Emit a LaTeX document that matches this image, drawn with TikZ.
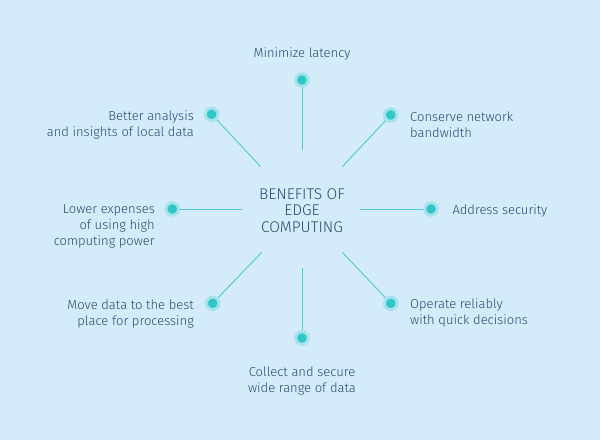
\documentclass[tikz,border=0pt]{standalone}
\usepackage{fontspec}
\setmainfont{Fira Sans Light}
\definecolor{bg}{HTML}{D4ECFA}
\definecolor{txt}{HTML}{2A486C}
\definecolor{teal}{HTML}{2FC6C8}
\definecolor{halo}{HTML}{A6E2EC}
\definecolor{spoke}{HTML}{4CC8D0}
\begin{document}
\begin{tikzpicture}[x=1pt,y=-1pt,
  lbl/.style={font=\fontsize{13}{16}\selectfont, text=txt, inner sep=0pt},
  ctr/.style={font=\fontsize{15.5}{16.3}\selectfont, text=txt, inner sep=0pt},
  dot/.style={circle, fill=teal, minimum size=12.5pt, inner sep=0pt, draw=halo, line width=3pt},
  spk/.style={draw=spoke, line width=0.9pt}]
\fill[bg] (0,0) rectangle (600,440);
\useasboundingbox (0,0) rectangle (600,440);
% centre
\node[ctr, align=center] (c) at (302,210.5) {BENEFITS OF\\EDGE\\COMPUTING};
% spoke inner ends
\coordinate (e1) at (302,150);
\coordinate (e2) at (342.3,166.7);
\coordinate (e3) at (360,209);
\coordinate (e4) at (342.3,252.3);
\coordinate (e5) at (302,268.3);
\coordinate (e6) at (261.7,252.3);
\coordinate (e7) at (242.3,209);
\coordinate (e8) at (260.7,166.7);
% spokes
\draw[spk] (e1) -- (302,80) coordinate (p1);
\draw[spk] (e2) -- (390.7,115) coordinate (p2);
\draw[spk] (e3) -- (431,209) coordinate (p3);
\draw[spk] (e4) -- (390.7,303.3) coordinate (p4);
\draw[spk] (e5) -- (302,338) coordinate (p5);
\draw[spk] (e6) -- (212.7,303.3) coordinate (p6);
\draw[spk] (e7) -- (172.3,209) coordinate (p7);
\draw[spk] (e8) -- (211.7,114.3) coordinate (p8);
% dots
\foreach \i in {1,...,8} \node[dot] (d\i) at (p\i) {};
% labels
\node[lbl, align=center] (t1) at (302,53.8) {Minimize latency};
\node[lbl, align=left, anchor=west] (t2) at (410,124.5) {Conserve network\\bandwidth};
\node[lbl, align=left, anchor=west] (t3) at (452.3,210.5) {Address security};
\node[lbl, align=left, anchor=west] (t4) at (410,312.8) {Operate reliably\\with quick decisions};
\node[lbl, align=center] (t5) at (302,381.2) {Collect and secure\\wide range of data};
\node[lbl, align=right, anchor=east] (t6) at (194,313.5) {Move data to the best\\place for processing};
\node[lbl, align=right, anchor=east] (t7) at (155,226.5) {Lower expenses\\of using high\\computing power};
\node[lbl, align=right, anchor=east] (t8) at (194,124.5) {Better analysis\\and insights of local data};
\end{tikzpicture}
\end{document}
